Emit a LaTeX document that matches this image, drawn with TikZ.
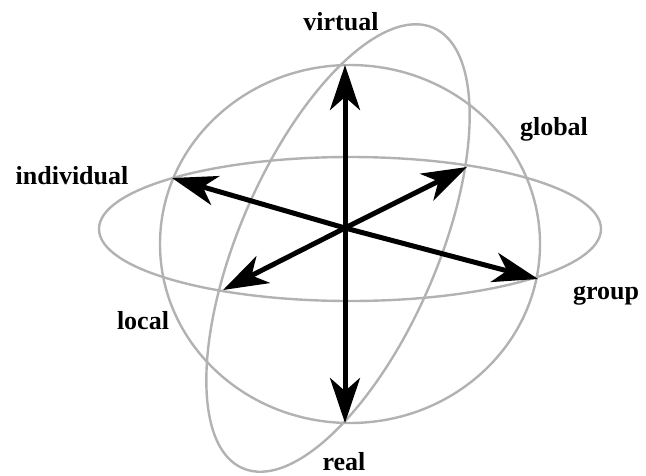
\documentclass[tikz,border=0pt]{standalone}
\usepackage{fontspec}
\setmainfont{Liberation Serif}
\usetikzlibrary{arrows.meta}
\begin{document}
\begin{tikzpicture}[x=1pt,y=-1pt,
  orbit/.style={draw=black!30, line width=2.4pt},
  axis/.style={line width=5pt, -{Stealth[length=45pt,width=30pt,inset=13pt]}},
  lbl/.style={font=\fontsize{26}{30}\selectfont\bfseries, inner sep=0pt}]
\useasboundingbox (0,0) rectangle (646,475);
% sphere outline and orbits
\draw[orbit] (350,244) ellipse [x radius=190, y radius=179];
\draw[orbit] (350,229) ellipse [x radius=251, y radius=72];
\draw[orbit, rotate around={-23.4:(338,248)}] (338,248) ellipse [x radius=99, y radius=240];
% axis points
\coordinate (c) at (345,228);
\coordinate (v) at (345,65);
\coordinate (r) at (345,423);
\coordinate (i) at (172,178);
\coordinate (g) at (538,279);
\coordinate (gl) at (467,167);
\coordinate (lo) at (223,290);
\draw[axis] (c) -- (v);
\draw[axis] (c) -- (r);
\draw[axis] (c) -- (i);
\draw[axis] (c) -- (g);
\draw[axis] (c) -- (gl);
\draw[axis] (c) -- (lo);
% labels
\node[lbl] (tv) at (341,22) {virtual};
\node[lbl] (tr) at (344,462) {real};
\node[lbl] (ti) at (72,176) {individual};
\node[lbl] (tg) at (606,296) {group};
\node[lbl] (tgl) at (554,129) {global};
\node[lbl] (tlo) at (143,321) {local};
\end{tikzpicture}
\end{document}
